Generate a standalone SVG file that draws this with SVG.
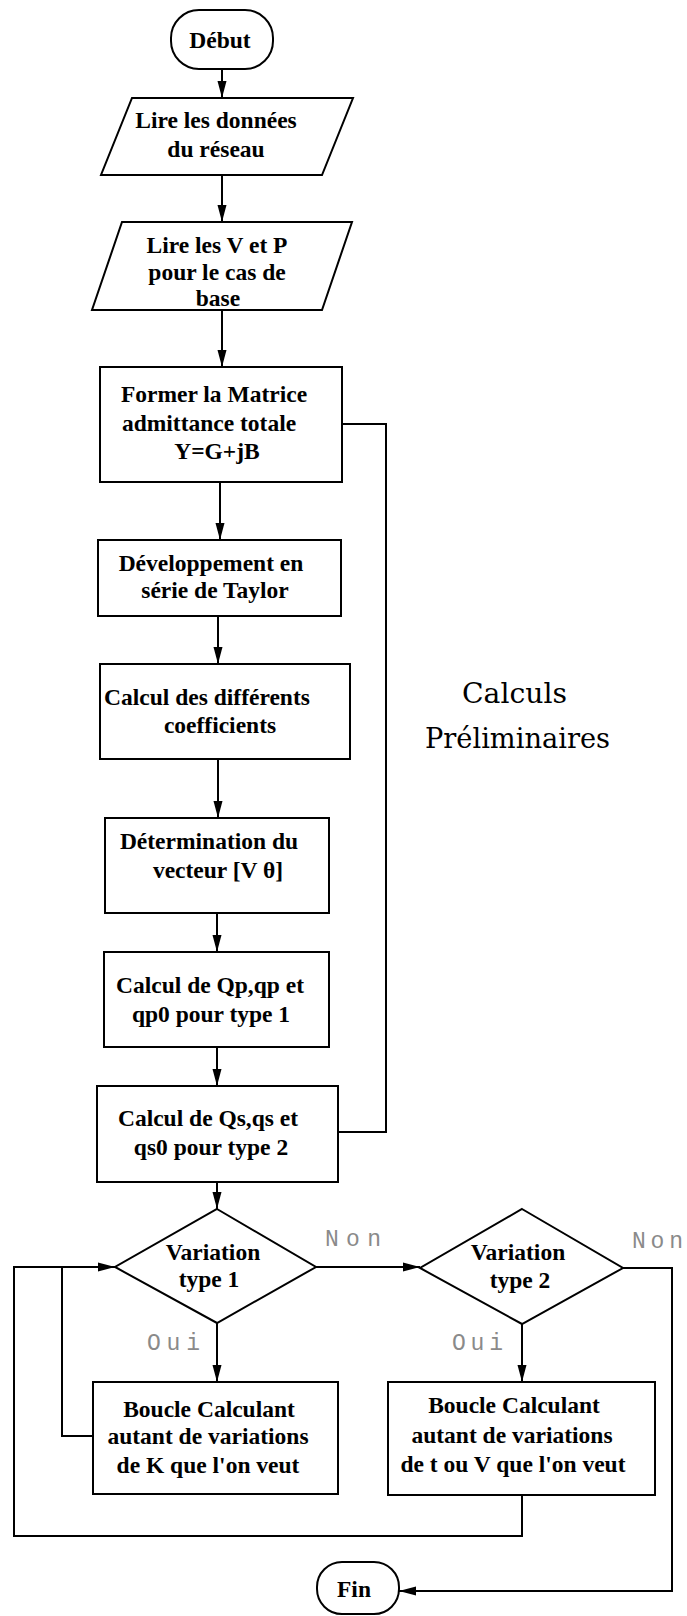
<svg xmlns="http://www.w3.org/2000/svg" width="687" height="1616" viewBox="0 0 687 1616">
<style>
.s{fill:#fff;stroke:#000;stroke-width:2}
.t{font-family:"Liberation Serif","Times New Roman",serif;font-weight:bold;font-size:23.5px;text-anchor:middle;fill:#000}
.c{fill:none;stroke:#000;stroke-width:2}
.lbl{font-family:"Liberation Mono","Courier New",monospace;font-size:23px;fill:#8a8a8a}
.big{font-family:"DejaVu Serif","Liberation Serif",serif;font-size:28px;fill:#000}
</style>
<defs>
<marker id="ah" markerWidth="18" markerHeight="10" refX="17" refY="5" orient="auto" markerUnits="userSpaceOnUse">
<path d="M0,0.5 L17,5 L0,9.5 Z" fill="#000"/>
</marker>
</defs>
<rect width="687" height="1616" fill="#fff"/>

<g id="connectors">
<line class="c" x1="222" y1="69" x2="222" y2="98" marker-end="url(#ah)"/>
<line class="c" x1="222" y1="175" x2="222" y2="222" marker-end="url(#ah)"/>
<line class="c" x1="222" y1="310" x2="222" y2="367" marker-end="url(#ah)"/>
<line class="c" x1="220" y1="482" x2="220" y2="540" marker-end="url(#ah)"/>
<line class="c" x1="218" y1="616" x2="218" y2="664" marker-end="url(#ah)"/>
<line class="c" x1="218" y1="759" x2="218" y2="818" marker-end="url(#ah)"/>
<line class="c" x1="217" y1="913" x2="217" y2="952" marker-end="url(#ah)"/>
<line class="c" x1="217" y1="1047" x2="217" y2="1086" marker-end="url(#ah)"/>
<line class="c" x1="217" y1="1182" x2="217" y2="1209" marker-end="url(#ah)"/>
<line class="c" x1="217" y1="1323" x2="217" y2="1382" marker-end="url(#ah)"/>
<line class="c" x1="316" y1="1267" x2="420" y2="1267" marker-end="url(#ah)"/>
<line class="c" x1="522" y1="1324" x2="522" y2="1382" marker-end="url(#ah)"/>
<polyline class="c" points="623,1268 672,1268 672,1591 399,1591" marker-end="url(#ah)"/>
<polyline class="c" points="522,1495 522,1536 14,1536 14,1267 115,1267" marker-end="url(#ah)"/>
<polyline class="c" points="93,1436 62,1436 62,1267"/>
<polyline class="c" points="342,424 386,424 386,1132 338,1132"/>
</g>

<g id="debut">
<rect class="s" x="171" y="10" width="102" height="59" rx="28" ry="28"/>
<text class="t" x="220" y="48">Début</text>
</g>

<g id="lire-donnees">
<polygon class="s" points="132,98 353,98 322,175 101,175"/>
<text class="t" x="216" y="128">Lire les données</text>
<text class="t" x="216" y="157">du réseau</text>
</g>

<g id="lire-vp">
<polygon class="s" points="122,222 352,222 322,310 92,310"/>
<text class="t" x="217" y="253">Lire les V et P</text>
<text class="t" x="217" y="280">pour le cas de</text>
<text class="t" x="218" y="306">base</text>
</g>

<g id="matrice">
<rect class="s" x="100" y="367" width="242" height="115"/>
<text class="t" x="214" y="402">Former la Matrice</text>
<text class="t" x="209" y="431">admittance totale</text>
<text class="t" x="217" y="459">Y=G+jB</text>
</g>

<g id="taylor">
<rect class="s" x="98" y="540" width="243" height="76"/>
<text class="t" x="211" y="571">Développement en</text>
<text class="t" x="215" y="598">série de Taylor</text>
</g>

<g id="coefficients">
<rect class="s" x="100" y="664" width="250" height="95"/>
<text class="t" x="207" y="705">Calcul des différents</text>
<text class="t" x="220" y="733">coefficients</text>
</g>

<g id="vecteur">
<rect class="s" x="105" y="818" width="224" height="95"/>
<text class="t" x="209" y="849">Détermination du</text>
<text class="t" x="218" y="878">vecteur [V  θ]</text>
</g>

<g id="qp">
<rect class="s" x="104" y="952" width="225" height="95"/>
<text class="t" x="210" y="993">Calcul de Qp,qp et</text>
<text class="t" x="211" y="1022">qp0 pour type 1</text>
</g>

<g id="qs">
<rect class="s" x="97" y="1086" width="241" height="96"/>
<text class="t" x="208" y="1126">Calcul de Qs,qs et</text>
<text class="t" x="211" y="1155">qs0 pour type 2</text>
</g>

<g id="preliminaires">
<text class="big" x="462" y="703" textLength="105" lengthAdjust="spacingAndGlyphs">Calculs</text>
<text class="big" x="425" y="748" textLength="185" lengthAdjust="spacingAndGlyphs">Préliminaires</text>
</g>

<g id="variation1">
<polygon class="s" points="217,1209 316,1267 217,1323 115,1267"/>
<text class="t" x="213" y="1260">Variation</text>
<text class="t" x="209" y="1287">type 1</text>
</g>

<g id="variation2">
<polygon class="s" points="522,1209 623,1268 522,1324 420,1268"/>
<text class="t" x="518" y="1260">Variation</text>
<text class="t" x="520" y="1288">type 2</text>
</g>

<g id="labels">
<text class="lbl" x="325" y="1246" textLength="56" lengthAdjust="spacing">Non</text>
<text class="lbl" x="632" y="1248" textLength="51" lengthAdjust="spacing">Non</text>
<text class="lbl" x="147" y="1350" textLength="53" lengthAdjust="spacing">Oui</text>
<text class="lbl" x="452" y="1350" textLength="51" lengthAdjust="spacing">Oui</text>
</g>

<g id="boucle1">
<rect class="s" x="93" y="1382" width="245" height="112"/>
<text class="t" x="209" y="1417">Boucle Calculant</text>
<text class="t" x="208" y="1444">autant de variations</text>
<text class="t" x="208" y="1473">de K que l'on veut</text>
</g>

<g id="boucle2">
<rect class="s" x="388" y="1382" width="267" height="113"/>
<text class="t" x="514" y="1413">Boucle Calculant</text>
<text class="t" x="512" y="1443">autant de variations</text>
<text class="t" x="513" y="1472">de t ou V que l'on veut</text>
</g>

<g id="fin">
<rect class="s" x="317" y="1562" width="82" height="52" rx="25" ry="25"/>
<text class="t" x="354" y="1597">Fin</text>
</g>
</svg>
